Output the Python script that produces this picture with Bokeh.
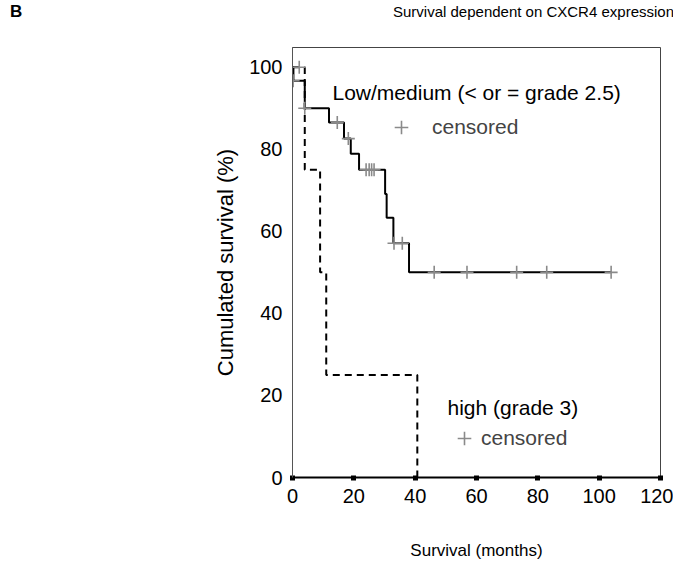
from bokeh.plotting import figure
from bokeh.layouts import column
from bokeh.models import Label, Legend, LegendItem, Range1d, FixedTicker, Div
from bokeh.embed import file_html
from bokeh.resources import INLINE

# Low/medium CXCR4 (<= grade 2.5) Kaplan-Meier steps
low_t = [0, 0.3, 4.0, 11.9, 16.8, 19.0, 21.7, 30.2, 30.7, 32.9, 38.0, 104.0]
low_s = [100, 96.7, 90.0, 86.5, 82.6, 78.9, 75.0, 69.1, 63.3, 57.1, 50.0, 50.0]
low_cens_t = [0.2, 4.0, 14.6, 18.2, 24.0, 25.0, 25.8, 26.6, 33.1, 35.8, 46.2, 56.9, 73.1, 82.9, 103.9]
low_cens_s = [96.7, 90.0, 86.5, 82.6, 75.0, 75.0, 75.0, 75.0, 57.1, 57.1, 50.0, 50.0, 50.0, 50.0, 50.0]

# High CXCR4 (grade 3)
high_t = [0, 4.0, 9.0, 11.0, 40.7]
high_s = [100, 75.0, 50.0, 25.0, 0.0]
high_cens_t = [2.2]
high_cens_s = [100.0]

x_ticks = [0, 20, 40, 60, 80, 100, 120]
y_ticks = [0, 20, 40, 60, 80, 100]

FONT = "Liberation Sans"
GRAY = "#8a8a8a"
HEADER_H = 30

# ---- header strip (panel letter + title) ----
header_html = (
    "<div style=\"position:relative;width:673px;height:%dpx;"
    "font-family:'Liberation Sans',Arial,sans-serif;color:black;\">"
    "<span style=\"position:absolute;left:10px;top:2px;font-size:17px;"
    "font-weight:bold;line-height:20px;\">B</span>"
    "<span style=\"position:absolute;left:393px;top:3px;font-size:15px;"
    "line-height:18px;white-space:nowrap;\">Survival dependent on CXCR4 expression</span>"
    "</div>" % HEADER_H
)
header = Div(text=header_html, width=673, height=HEADER_H, margin=0)

# ---- main plot ----
p = figure(width=673, height=562 - HEADER_H, x_range=Range1d(0, 120), y_range=Range1d(0, 104.8),
           output_backend="svg", toolbar_location=None,
           min_border_left=292, min_border_right=13, min_border_top=47 - HEADER_H,
           min_border_bottom=82)
p.background_fill_color = "white"
p.border_fill_color = "white"
p.outline_line_color = "#444444"
p.outline_line_width = 1
p.xgrid.grid_line_color = None
p.ygrid.grid_line_color = None

p.xaxis.ticker = FixedTicker(ticks=x_ticks)
p.yaxis.ticker = FixedTicker(ticks=y_ticks)
p.xaxis.minor_tick_line_color = None
p.yaxis.minor_tick_line_color = None
p.xaxis.axis_line_color = "black"
p.xaxis.axis_line_width = 2
p.xaxis.major_tick_line_color = "black"
p.xaxis.major_tick_line_width = 5
p.xaxis.major_tick_in = 2
p.xaxis.major_tick_out = 3
p.xaxis.major_label_standoff = 8
p.yaxis.axis_line_color = "#555555"
p.yaxis.axis_line_width = 1
p.yaxis.major_tick_line_color = None
p.yaxis.major_tick_in = 0
p.yaxis.major_tick_out = 0
p.yaxis.major_label_standoff = 10
for ax in (p.xaxis, p.yaxis):
    ax.major_label_text_font = FONT
    ax.major_label_text_font_size = "20px"
    ax.major_label_text_color = "black"
    ax.axis_label_text_font = FONT
    ax.axis_label_text_font_style = "normal"
    ax.axis_label_text_color = "black"
p.xaxis.axis_label = "Survival (months)"
p.xaxis.axis_label_text_font_size = "17px"
p.xaxis.axis_label_standoff = 35
p.yaxis.axis_label = "Cumulated survival (%)"
p.yaxis.axis_label_text_font_size = "22px"
p.yaxis.axis_label_standoff = 8

p.step(low_t, low_s, mode="after", line_color="black", line_width=2)
p.step(high_t, high_s, mode="after", line_color="black", line_width=2, line_dash="7 5")
r_lowc = p.scatter(low_cens_t, low_cens_s, marker="cross", size=13,
                   line_color=GRAY, line_width=1.6)
r_highc = p.scatter(high_cens_t, high_cens_s, marker="cross", size=13,
                    line_color=GRAY, line_width=1.6)

def make_legend(renderer, loc, standoff):
    return Legend(items=[LegendItem(label="censored", renderers=[renderer])],
                  location=loc, border_line_color=None, background_fill_alpha=0,
                  padding=0, margin=0, spacing=0, glyph_width=34, glyph_height=34,
                  label_standoff=standoff, label_text_font=FONT,
                  label_text_font_size="21px", label_height=20)

p.add_layout(make_legend(r_lowc, (92, 333), 14))
p.add_layout(make_legend(r_highc, (155, 22), 0))

def lab(text, x, y, size):
    p.add_layout(Label(x=x, y=y, x_units="screen", y_units="screen", text=text,
                       text_font=FONT, text_font_size=size,
                       text_baseline="middle", text_color="black"))

lab("Low/medium (< or = grade 2.5)", 40, 385, "21px")
lab("high (grade 3)", 155, 70, "21px")

layout = column(header, p, spacing=0)
open("out.html", "w").write(file_html(layout, INLINE))
